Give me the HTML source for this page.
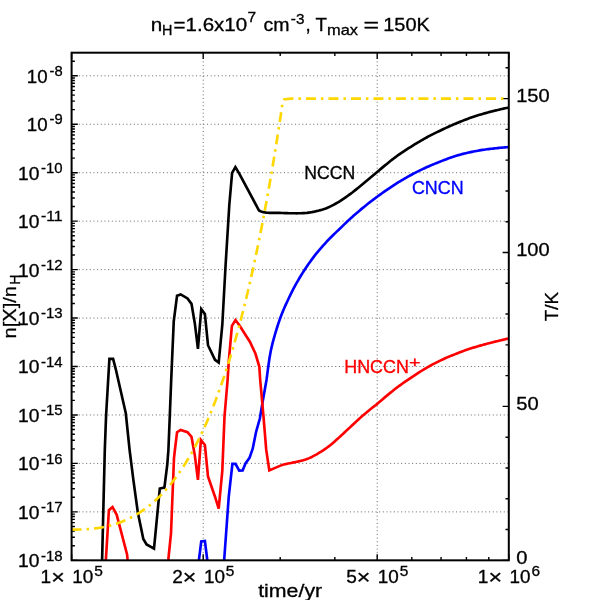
<!DOCTYPE html>
<html><head><meta charset="utf-8"><title>NCCN chemistry</title>
<style>
html,body{margin:0;padding:0;background:#fff;}
body{width:600px;height:600px;overflow:hidden;}
svg{display:block;will-change:transform;}
text{font-family:"Liberation Sans",sans-serif;fill:#000;stroke:#000;stroke-width:0.3px;}
.t{font-size:17.6px;}
.s{font-size:14.1px;}
</style></head><body>
<svg width="600" height="600" viewBox="0 0 600 600">
<rect x="0" y="0" width="600" height="600" fill="#ffffff"/>
<defs><clipPath id="cp"><rect x="71.60" y="52.70" width="437.20" height="507.63"/></clipPath></defs>

<g stroke="#686868" stroke-width="1" stroke-dasharray="1 2.663" fill="none">
<line x1="78.83" y1="75.80" x2="508.80" y2="75.80"/>
<line x1="78.83" y1="124.25" x2="508.80" y2="124.25"/>
<line x1="78.83" y1="172.71" x2="508.80" y2="172.71"/>
<line x1="78.83" y1="221.16" x2="508.80" y2="221.16"/>
<line x1="78.83" y1="269.61" x2="508.80" y2="269.61"/>
<line x1="78.83" y1="318.06" x2="508.80" y2="318.06"/>
<line x1="78.83" y1="366.52" x2="508.80" y2="366.52"/>
<line x1="78.83" y1="414.97" x2="508.80" y2="414.97"/>
<line x1="78.83" y1="463.42" x2="508.80" y2="463.42"/>
<line x1="78.83" y1="511.88" x2="508.80" y2="511.88"/>
<line x1="203.21" y1="61.40" x2="203.21" y2="560.33" />
<line x1="377.19" y1="61.40" x2="377.19" y2="560.33" />
</g>
<path d="M71.60,75.80 h6.20 M71.60,61.21 h3.30 M71.60,124.25 h6.20 M71.60,109.67 h3.30 M71.60,101.14 h3.30 M71.60,95.08 h3.30 M71.60,90.39 h3.30 M71.60,86.55 h3.30 M71.60,83.31 h3.30 M71.60,80.50 h3.30 M71.60,78.02 h3.30 M71.60,172.71 h6.20 M71.60,158.12 h3.30 M71.60,149.59 h3.30 M71.60,143.53 h3.30 M71.60,138.84 h3.30 M71.60,135.00 h3.30 M71.60,131.76 h3.30 M71.60,128.95 h3.30 M71.60,126.47 h3.30 M71.60,221.16 h6.20 M71.60,206.57 h3.30 M71.60,198.04 h3.30 M71.60,191.99 h3.30 M71.60,187.29 h3.30 M71.60,183.46 h3.30 M71.60,180.21 h3.30 M71.60,177.40 h3.30 M71.60,174.92 h3.30 M71.60,269.61 h6.20 M71.60,255.03 h3.30 M71.60,246.49 h3.30 M71.60,240.44 h3.30 M71.60,235.74 h3.30 M71.60,231.91 h3.30 M71.60,228.66 h3.30 M71.60,225.85 h3.30 M71.60,223.38 h3.30 M71.60,318.06 h6.20 M71.60,303.48 h3.30 M71.60,294.95 h3.30 M71.60,288.89 h3.30 M71.60,284.20 h3.30 M71.60,280.36 h3.30 M71.60,277.12 h3.30 M71.60,274.31 h3.30 M71.60,271.83 h3.30 M71.60,366.52 h6.20 M71.60,351.93 h3.30 M71.60,343.40 h3.30 M71.60,337.35 h3.30 M71.60,332.65 h3.30 M71.60,328.81 h3.30 M71.60,325.57 h3.30 M71.60,322.76 h3.30 M71.60,320.28 h3.30 M71.60,414.97 h6.20 M71.60,400.39 h3.30 M71.60,391.85 h3.30 M71.60,385.80 h3.30 M71.60,381.10 h3.30 M71.60,377.27 h3.30 M71.60,374.02 h3.30 M71.60,371.21 h3.30 M71.60,368.74 h3.30 M71.60,463.42 h6.20 M71.60,448.84 h3.30 M71.60,440.31 h3.30 M71.60,434.25 h3.30 M71.60,429.56 h3.30 M71.60,425.72 h3.30 M71.60,422.48 h3.30 M71.60,419.67 h3.30 M71.60,417.19 h3.30 M71.60,511.88 h6.20 M71.60,497.29 h3.30 M71.60,488.76 h3.30 M71.60,482.71 h3.30 M71.60,478.01 h3.30 M71.60,474.17 h3.30 M71.60,470.93 h3.30 M71.60,468.12 h3.30 M71.60,465.64 h3.30 M71.60,560.33 h6.20 M71.60,545.74 h3.30 M71.60,537.21 h3.30 M71.60,531.16 h3.30 M71.60,526.46 h3.30 M71.60,522.63 h3.30 M71.60,519.38 h3.30 M71.60,516.57 h3.30 M71.60,514.09 h3.30 M508.80,560.33 h-6.20 M508.80,529.55 h-3.30 M508.80,498.77 h-3.30 M508.80,467.98 h-3.30 M508.80,437.20 h-3.30 M508.80,406.42 h-6.20 M508.80,375.64 h-3.30 M508.80,344.86 h-3.30 M508.80,314.07 h-3.30 M508.80,283.29 h-3.30 M508.80,252.51 h-6.20 M508.80,221.73 h-3.30 M508.80,190.95 h-3.30 M508.80,160.16 h-3.30 M508.80,129.38 h-3.30 M508.80,98.60 h-6.20 M508.80,67.82 h-3.30 M71.60,560.33 v-6.20 M71.60,52.70 v6.20 M203.21,560.33 v-6.20 M203.21,52.70 v6.20 M280.20,560.33 v-3.30 M280.20,52.70 v3.30 M334.82,560.33 v-3.30 M334.82,52.70 v3.30 M377.19,560.33 v-6.20 M377.19,52.70 v6.20 M411.81,560.33 v-3.30 M411.81,52.70 v3.30 M441.08,560.33 v-3.30 M441.08,52.70 v3.30 M466.43,560.33 v-3.30 M466.43,52.70 v3.30 M488.79,560.33 v-3.30 M488.79,52.70 v3.30 M508.80,560.33 v-6.20 M508.80,52.70 v6.20" stroke="#000" stroke-width="1.4" fill="none"/>
<g clip-path="url(#cp)" fill="none" stroke-width="2.65" stroke-linejoin="miter" stroke-linecap="butt">
<path d="M102.10,560.00 L104.80,450.00 L106.10,415.20 L109.40,358.90 L113.10,358.90 L115.80,369.30 L125.80,413.30 L129.60,450.00 L133.30,479.30 L137.80,512.30 L143.30,538.90 L146.60,544.40 L154.00,548.60 L159.80,488.50 L164.40,487.60 L167.30,464.30 L168.40,450.00 L169.90,413.30 L171.20,380.00 L173.75,321.30 L177.05,295.70 L180.70,294.40 L187.50,298.40 L191.50,303.90 L194.80,323.20 L197.95,348.80 L201.25,309.00 L204.90,313.90 L208.00,345.20 L215.00,359.80 L218.70,362.60 L222.30,325.00 L225.60,265.00 L229.30,205.00 L232.10,172.90 L235.40,167.05 L239.40,173.80 L259.00,210.50 L260.50,211.18 L262.00,211.72 L263.50,212.14 L265.00,212.45 L266.50,212.67 L268.00,212.80 L269.50,212.86 L271.00,212.87 L272.50,212.84 L274.00,212.77 L275.50,212.83 L277.00,212.86 L278.50,212.89 L280.00,212.93 L281.50,212.97 L283.00,213.01 L284.50,213.07 L286.00,213.11 L287.50,213.16 L289.00,213.20 L290.50,213.24 L292.00,213.27 L293.50,213.29 L295.00,213.30 L296.50,213.31 L298.00,213.29 L299.50,213.26 L301.00,213.21 L302.50,213.15 L304.00,213.06 L305.50,212.95 L307.00,212.81 L308.50,212.63 L310.00,212.43 L311.50,212.19 L313.00,211.91 L314.50,211.60 L316.00,211.24 L317.50,210.92 L319.00,210.56 L320.50,210.15 L322.00,209.71 L323.50,209.22 L325.00,208.70 L326.50,208.14 L328.00,207.55 L329.50,206.86 L331.00,206.13 L332.50,205.38 L334.00,204.59 L335.50,203.78 L337.00,202.93 L338.50,202.06 L340.00,201.17 L341.50,200.18 L343.00,199.18 L344.50,198.15 L346.00,197.10 L347.50,196.03 L349.00,194.94 L350.50,193.83 L352.00,192.71 L353.50,191.53 L355.00,190.34 L356.50,189.14 L358.00,187.92 L359.50,186.69 L361.00,185.46 L362.50,184.22 L364.00,182.96 L365.50,181.72 L367.00,180.47 L368.50,179.22 L370.00,177.97 L371.50,176.71 L373.00,175.46 L374.50,174.20 L376.00,172.95 L377.50,171.67 L379.00,170.40 L380.50,169.13 L382.00,167.87 L383.50,166.62 L385.00,165.38 L386.50,164.15 L388.00,162.93 L389.50,161.73 L391.00,160.55 L392.50,159.40 L394.00,158.26 L395.50,157.13 L397.00,156.02 L398.50,154.92 L400.00,153.84 L401.50,152.83 L403.00,151.83 L404.50,150.85 L406.00,149.88 L407.50,148.92 L409.00,147.98 L410.50,147.04 L412.00,146.09 L413.50,145.15 L415.00,144.23 L416.50,143.32 L418.00,142.42 L419.50,141.54 L421.00,140.66 L422.50,139.80 L424.00,138.95 L425.50,138.11 L427.00,137.28 L428.50,136.46 L430.00,135.65 L431.50,134.89 L433.00,134.13 L434.50,133.39 L436.00,132.66 L437.50,131.93 L439.00,131.22 L440.50,130.51 L442.00,129.78 L443.50,129.06 L445.00,128.36 L446.50,127.66 L448.00,126.97 L449.50,126.29 L451.00,125.62 L452.50,124.96 L454.00,124.31 L455.50,123.67 L457.00,123.04 L458.50,122.41 L460.00,121.80 L461.50,121.20 L463.00,120.61 L464.50,120.03 L466.00,119.47 L467.50,118.91 L469.00,118.36 L470.50,117.83 L472.00,117.31 L473.50,116.80 L475.00,116.30 L476.50,115.81 L478.00,115.33 L479.50,114.86 L481.00,114.41 L482.50,113.97 L484.00,113.54 L485.50,113.13 L487.00,112.70 L488.50,112.28 L490.00,111.87 L491.50,111.48 L493.00,111.10 L494.50,110.74 L496.00,110.39 L497.50,110.06 L499.00,109.69 L500.50,109.32 L502.00,108.96 L503.50,108.62 L505.00,108.29 L506.50,107.98 L508.00,107.69 L509.00,107.51" stroke="#000000"/>
<path d="M198.80,561.00 L201.25,541.50 L204.90,541.00 L207.40,561.00" stroke="#0000ff"/>
<path d="M224.10,561.00 L228.75,496.70 L232.40,463.90 L235.50,463.90 L239.20,470.70 L242.60,470.40 L245.50,463.40 L249.50,457.90 L252.70,448.70 L256.10,431.80 L259.85,418.50 L262.90,400.20 L266.50,380.00 L268.00,368.55 L269.50,358.08 L271.00,349.85 L272.50,343.33 L274.00,337.78 L275.50,332.63 L277.00,327.74 L278.50,323.13 L280.00,318.78 L281.50,314.77 L283.00,310.99 L284.50,307.45 L286.00,304.11 L287.50,300.97 L289.00,297.76 L290.50,294.60 L292.00,291.57 L293.50,288.68 L295.00,285.89 L296.50,283.19 L298.00,280.57 L299.50,278.01 L301.00,275.53 L302.50,273.10 L304.00,270.73 L305.50,268.46 L307.00,266.23 L308.50,264.06 L310.00,261.94 L311.50,259.87 L313.00,257.84 L314.50,255.85 L316.00,253.91 L317.50,252.10 L319.00,250.32 L320.50,248.58 L322.00,246.87 L323.50,245.18 L325.00,243.52 L326.50,241.88 L328.00,240.26 L329.50,238.74 L331.00,237.24 L332.50,235.76 L334.00,234.29 L335.50,232.83 L337.00,231.39 L338.50,229.96 L340.00,228.55 L341.50,227.07 L343.00,225.60 L344.50,224.15 L346.00,222.71 L347.50,221.29 L349.00,219.88 L350.50,218.50 L352.00,217.15 L353.50,215.82 L355.00,214.50 L356.50,213.20 L358.00,211.91 L359.50,210.64 L361.00,209.38 L362.50,208.13 L364.00,206.90 L365.50,205.69 L367.00,204.49 L368.50,203.30 L370.00,202.13 L371.50,200.98 L373.00,199.83 L374.50,198.71 L376.00,197.59 L377.50,196.50 L379.00,195.41 L380.50,194.33 L382.00,193.25 L383.50,192.18 L385.00,191.12 L386.50,190.08 L388.00,189.05 L389.50,188.03 L391.00,187.03 L392.50,186.05 L394.00,185.07 L395.50,184.11 L397.00,183.17 L398.50,182.24 L400.00,181.32 L401.50,180.41 L403.00,179.52 L404.50,178.65 L406.00,177.78 L407.50,176.93 L409.00,176.10 L410.50,175.27 L412.00,174.46 L413.50,173.67 L415.00,172.88 L416.50,172.11 L418.00,171.36 L419.50,170.61 L421.00,169.88 L422.50,169.16 L424.00,168.46 L425.50,167.76 L427.00,167.08 L428.50,166.42 L430.00,165.76 L431.50,165.12 L433.00,164.49 L434.50,163.88 L436.00,163.27 L437.50,162.68 L439.00,162.10 L440.50,161.52 L442.00,160.90 L443.50,160.30 L445.00,159.71 L446.50,159.14 L448.00,158.57 L449.50,158.02 L451.00,157.48 L452.50,156.95 L454.00,156.43 L455.50,155.95 L457.00,155.52 L458.50,155.10 L460.00,154.69 L461.50,154.29 L463.00,153.90 L464.50,153.53 L466.00,153.17 L467.50,152.81 L469.00,152.48 L470.50,152.15 L472.00,151.83 L473.50,151.53 L475.00,151.23 L476.50,150.95 L478.00,150.68 L479.50,150.42 L481.00,150.17 L482.50,149.93 L484.00,149.70 L485.50,149.49 L487.00,149.28 L488.50,149.09 L490.00,148.90 L491.50,148.73 L493.00,148.57 L494.50,148.42 L496.00,148.25 L497.50,148.07 L499.00,147.91 L500.50,147.76 L502.00,147.62 L503.50,147.49 L505.00,147.37 L506.50,147.26 L508.00,147.16 L509.00,147.09" stroke="#0000ff"/>
<path d="M105.75,562.00 L108.90,510.20 L112.50,507.00 L116.70,514.80 L127.00,554.20 L127.90,562.00" stroke="#ff0000"/>
<path d="M168.20,561.00 L171.00,533.30 L174.00,458.00 L174.90,450.00 L177.05,432.25 L180.70,429.90 L187.50,432.25 L191.50,436.80 L194.80,455.20 L197.95,479.90 L200.90,440.00 L204.90,445.00 L208.00,476.40 L215.00,496.70 L218.70,508.60 L222.30,471.00 L224.50,416.70 L227.60,380.00 L228.75,361.70 L231.90,325.90 L235.50,320.00 L239.20,325.00 L250.00,342.00 L255.40,353.50 L259.30,366.50 L260.20,380.00 L263.50,416.70 L266.20,449.70 L269.30,470.40 L282.20,464.90 L283.70,464.52 L285.20,464.17 L286.70,463.85 L288.20,463.54 L289.70,463.24 L291.20,462.95 L292.70,462.65 L294.20,462.35 L295.70,462.04 L297.20,461.70 L298.70,461.34 L300.20,460.95 L301.70,460.62 L303.20,460.23 L304.70,459.79 L306.20,459.30 L307.70,458.74 L309.20,458.12 L310.70,457.44 L312.20,456.72 L313.70,455.94 L315.20,455.13 L316.70,454.28 L318.20,453.39 L319.70,452.48 L321.20,451.54 L322.70,450.56 L324.20,449.57 L325.70,448.54 L327.20,447.48 L328.70,446.40 L330.20,445.27 L331.70,444.02 L333.20,442.74 L334.70,441.43 L336.20,440.10 L337.70,438.76 L339.20,437.39 L340.70,436.01 L342.20,434.61 L343.70,433.20 L345.20,431.78 L346.70,430.38 L348.20,429.00 L349.70,427.61 L351.20,426.22 L352.70,424.82 L354.20,423.43 L355.70,422.03 L357.20,420.64 L358.70,419.26 L360.20,417.88 L361.70,416.51 L363.20,415.17 L364.70,413.91 L366.20,412.66 L367.70,411.42 L369.20,410.21 L370.70,409.01 L372.20,407.82 L373.70,406.66 L375.20,405.51 L376.70,404.37 L378.20,403.08 L379.70,401.76 L381.20,400.45 L382.70,399.16 L384.20,397.88 L385.70,396.62 L387.20,395.37 L388.70,394.12 L390.20,392.89 L391.70,391.66 L393.20,390.44 L394.70,389.23 L396.20,388.11 L397.70,387.01 L399.20,385.92 L400.70,384.83 L402.20,383.76 L403.70,382.70 L405.20,381.64 L406.70,380.60 L408.20,379.56 L409.70,378.54 L411.20,377.53 L412.70,376.53 L414.20,375.53 L415.70,374.56 L417.20,373.59 L418.70,372.63 L420.20,371.69 L421.70,370.75 L423.20,369.83 L424.70,368.93 L426.20,368.03 L427.70,367.15 L429.20,366.31 L430.70,365.49 L432.20,364.68 L433.70,363.88 L435.20,363.10 L436.70,362.34 L438.20,361.59 L439.70,360.85 L441.20,360.13 L442.70,359.43 L444.20,358.74 L445.70,358.07 L447.20,357.41 L448.70,356.77 L450.20,356.15 L451.70,355.54 L453.20,354.96 L454.70,354.38 L456.20,353.77 L457.70,353.17 L459.20,352.57 L460.70,351.99 L462.20,351.43 L463.70,350.88 L465.20,350.34 L466.70,349.82 L468.20,349.31 L469.70,348.81 L471.20,348.32 L472.70,347.84 L474.20,347.37 L475.70,346.92 L477.20,346.47 L478.70,346.04 L480.20,345.61 L481.70,345.19 L483.20,344.78 L484.70,344.38 L486.20,343.97 L487.70,343.57 L489.20,343.18 L490.70,342.79 L492.20,342.41 L493.70,342.03 L495.20,341.66 L496.70,341.29 L498.20,340.93 L499.70,340.57 L501.20,340.21 L502.70,339.86 L504.20,339.51 L505.70,339.16 L507.20,338.81 L508.70,338.47 L509.00,338.40" stroke="#ff0000"/>
<path d="M71.60,529.55 L72.60,529.55 L73.60,529.55 L74.60,529.55 L75.60,529.55 L76.60,529.55 L77.60,529.55 L78.60,529.54 L79.60,529.53 L80.60,529.51 L81.60,529.49 L82.60,529.46 L83.60,529.42 L84.60,529.37 L85.60,529.32 L86.60,529.26 L87.60,529.19 L88.60,529.12 L89.60,529.04 L90.60,528.95 L91.60,528.85 L92.60,528.75 L93.60,528.64 L94.60,528.52 L95.60,528.39 L96.60,528.25 L97.60,528.11 L98.60,527.95 L99.60,527.79 L100.60,527.62 L101.60,527.44 L102.60,527.25 L103.60,527.05 L104.60,526.85 L105.60,526.63 L106.60,526.40 L107.60,526.17 L108.60,525.92 L109.60,525.66 L110.60,525.40 L111.60,525.12 L112.60,524.84 L113.60,524.54 L114.60,524.23 L115.60,523.91 L116.60,523.58 L117.60,523.24 L118.60,522.89 L119.60,522.52 L120.60,522.15 L121.60,521.76 L122.60,521.36 L123.60,520.95 L124.60,520.53 L125.60,520.09 L126.60,519.64 L127.60,519.18 L128.60,518.70 L129.60,518.21 L130.60,517.71 L131.60,517.20 L132.60,516.67 L133.60,516.12 L134.60,515.57 L135.60,515.00 L136.60,514.41 L137.60,513.81 L138.60,513.19 L139.60,512.56 L140.60,511.91 L141.60,511.25 L142.60,510.57 L143.60,509.88 L144.60,509.17 L145.60,508.44 L146.60,507.70 L147.60,506.94 L148.60,506.16 L149.60,505.37 L150.60,504.55 L151.60,503.72 L152.60,502.88 L153.60,502.01 L154.60,501.12 L155.60,500.22 L156.60,499.30 L157.60,498.36 L158.60,497.39 L159.60,496.41 L160.60,495.41 L161.60,494.39 L162.60,493.35 L163.60,492.28 L164.60,491.20 L165.60,490.09 L166.60,488.97 L167.60,487.82 L168.60,486.64 L169.60,485.45 L170.60,484.23 L171.60,482.99 L172.60,481.73 L173.60,480.44 L174.60,479.13 L175.60,477.79 L176.60,476.43 L177.60,475.05 L178.60,473.64 L179.60,472.20 L180.60,470.74 L181.60,469.25 L182.60,467.74 L183.60,466.19 L184.60,464.62 L185.60,463.03 L186.60,461.40 L187.60,459.75 L188.60,458.07 L189.60,456.35 L190.60,454.61 L191.60,452.84 L192.60,451.04 L193.60,449.21 L194.60,447.35 L195.60,445.46 L196.60,443.53 L197.60,441.57 L198.60,439.58 L199.60,437.56 L200.60,435.51 L201.60,433.42 L202.60,431.29 L203.60,429.13 L204.60,426.94 L205.60,424.71 L206.60,422.45 L207.60,420.14 L208.60,417.81 L209.60,415.43 L210.60,413.02 L211.60,410.57 L212.60,408.08 L213.60,405.55 L214.60,402.98 L215.60,400.37 L216.60,397.72 L217.60,395.03 L218.60,392.30 L219.60,389.52 L220.60,386.70 L221.60,383.84 L222.60,380.94 L223.60,377.99 L224.60,375.00 L225.60,371.96 L226.60,368.88 L227.60,365.75 L228.60,362.57 L229.60,359.34 L230.60,356.07 L231.60,352.75 L232.60,349.38 L233.60,345.96 L234.60,342.49 L235.60,338.96 L236.60,335.39 L237.60,331.76 L238.60,328.08 L239.60,324.35 L240.60,320.56 L241.60,316.72 L242.60,312.82 L243.60,308.87 L244.60,304.86 L245.60,300.79 L246.60,296.66 L247.60,292.48 L248.60,288.23 L249.60,283.93 L250.60,279.56 L251.60,275.13 L252.60,270.64 L253.60,266.08 L254.60,261.46 L255.60,256.78 L256.60,252.03 L257.60,247.21 L258.60,242.33 L259.60,237.38 L260.60,232.36 L261.60,227.27 L262.60,222.11 L263.60,216.88 L264.60,211.58 L265.60,206.20 L266.60,200.75 L267.60,195.23 L268.60,189.63 L269.60,183.95 L270.60,178.20 L271.60,172.36 L272.60,166.45 L273.60,160.46 L274.60,154.39 L275.60,148.23 L276.60,142.00 L277.60,135.68 L278.60,129.27 L279.60,122.78 L280.60,116.20 L281.60,109.53 L282.60,102.77 L284.10,99.50 L290.50,98.60 L509.00,98.60" stroke="#ffd700" stroke-dasharray="10 5 2.5 5"/>
</g>
<rect x="71.60" y="52.70" width="437.20" height="507.63" fill="none" stroke="#000" stroke-width="2"/>
<text class="t" x="26.80" y="82.70" textLength="20.8" lengthAdjust="spacingAndGlyphs">10</text>
<text class="s" x="49.50" y="76.00" textLength="13.1" lengthAdjust="spacingAndGlyphs">-8</text>
<text class="t" x="26.80" y="131.15" textLength="20.8" lengthAdjust="spacingAndGlyphs">10</text>
<text class="s" x="49.50" y="124.45" textLength="13.1" lengthAdjust="spacingAndGlyphs">-9</text>
<text class="t" x="18.10" y="179.61" textLength="21.4" lengthAdjust="spacingAndGlyphs">10</text>
<text class="s" x="41.00" y="172.91" textLength="21.6" lengthAdjust="spacingAndGlyphs">-10</text>
<text class="t" x="18.10" y="228.06" textLength="21.4" lengthAdjust="spacingAndGlyphs">10</text>
<text class="s" x="41.00" y="221.36" textLength="21.6" lengthAdjust="spacingAndGlyphs">-11</text>
<text class="t" x="18.10" y="276.51" textLength="21.4" lengthAdjust="spacingAndGlyphs">10</text>
<text class="s" x="41.00" y="269.81" textLength="21.6" lengthAdjust="spacingAndGlyphs">-12</text>
<text class="t" x="18.10" y="324.96" textLength="21.4" lengthAdjust="spacingAndGlyphs">10</text>
<text class="s" x="41.00" y="318.26" textLength="21.6" lengthAdjust="spacingAndGlyphs">-13</text>
<text class="t" x="18.10" y="373.42" textLength="21.4" lengthAdjust="spacingAndGlyphs">10</text>
<text class="s" x="41.00" y="366.72" textLength="21.6" lengthAdjust="spacingAndGlyphs">-14</text>
<text class="t" x="18.10" y="421.87" textLength="21.4" lengthAdjust="spacingAndGlyphs">10</text>
<text class="s" x="41.00" y="415.17" textLength="21.6" lengthAdjust="spacingAndGlyphs">-15</text>
<text class="t" x="18.10" y="470.32" textLength="21.4" lengthAdjust="spacingAndGlyphs">10</text>
<text class="s" x="41.00" y="463.62" textLength="21.6" lengthAdjust="spacingAndGlyphs">-16</text>
<text class="t" x="18.10" y="518.78" textLength="21.4" lengthAdjust="spacingAndGlyphs">10</text>
<text class="s" x="41.00" y="512.08" textLength="21.6" lengthAdjust="spacingAndGlyphs">-17</text>
<text class="t" x="18.10" y="567.23" textLength="21.4" lengthAdjust="spacingAndGlyphs">10</text>
<text class="s" x="41.00" y="560.53" textLength="21.6" lengthAdjust="spacingAndGlyphs">-18</text>
<text class="t" x="516.20" y="564.03" textLength="11.2" lengthAdjust="spacingAndGlyphs">0</text>
<text class="t" x="516.20" y="410.12" textLength="22.4" lengthAdjust="spacingAndGlyphs">50</text>
<text class="t" x="516.20" y="256.21" textLength="33.5" lengthAdjust="spacingAndGlyphs">100</text>
<text class="t" x="516.20" y="102.30" textLength="33.5" lengthAdjust="spacingAndGlyphs">150</text>
<text class="t" x="40.60" y="582.7" textLength="10.6" lengthAdjust="spacingAndGlyphs">1</text>
<text x="51.20" y="584.0" textLength="13.6" lengthAdjust="spacingAndGlyphs" style="font-size:20px">×</text>
<text class="t" x="72.30" y="582.7" textLength="21.0" lengthAdjust="spacingAndGlyphs">10</text>
<text class="s" x="94.20" y="576.2" textLength="8.6" lengthAdjust="spacingAndGlyphs">5</text>
<text class="t" x="172.21" y="582.7" textLength="10.6" lengthAdjust="spacingAndGlyphs">2</text>
<text x="182.81" y="584.0" textLength="13.6" lengthAdjust="spacingAndGlyphs" style="font-size:20px">×</text>
<text class="t" x="203.91" y="582.7" textLength="21.0" lengthAdjust="spacingAndGlyphs">10</text>
<text class="s" x="225.81" y="576.2" textLength="8.6" lengthAdjust="spacingAndGlyphs">5</text>
<text class="t" x="346.19" y="582.7" textLength="10.6" lengthAdjust="spacingAndGlyphs">5</text>
<text x="356.79" y="584.0" textLength="13.6" lengthAdjust="spacingAndGlyphs" style="font-size:20px">×</text>
<text class="t" x="377.89" y="582.7" textLength="21.0" lengthAdjust="spacingAndGlyphs">10</text>
<text class="s" x="399.79" y="576.2" textLength="8.6" lengthAdjust="spacingAndGlyphs">5</text>
<text class="t" x="477.80" y="582.7" textLength="10.6" lengthAdjust="spacingAndGlyphs">1</text>
<text x="488.40" y="584.0" textLength="13.6" lengthAdjust="spacingAndGlyphs" style="font-size:20px">×</text>
<text class="t" x="509.50" y="582.7" textLength="21.0" lengthAdjust="spacingAndGlyphs">10</text>
<text class="s" x="531.40" y="576.2" textLength="8.6" lengthAdjust="spacingAndGlyphs">6</text>
<text class="t" x="258.2" y="596.7" textLength="64" lengthAdjust="spacingAndGlyphs">time/yr</text>
<g transform="translate(16,338.5) rotate(-90)"><text class="t" x="0" y="0.3" textLength="52.5" lengthAdjust="spacingAndGlyphs">n[X]/n</text><text class="s" x="54" y="3.6" textLength="9.8" lengthAdjust="spacingAndGlyphs">H</text></g>
<g transform="translate(557.9,321.2) rotate(-90)"><text class="t" x="0" y="0" textLength="29.3" lengthAdjust="spacingAndGlyphs">T/K</text></g>
<text class="t" x="150.8" y="31.25" textLength="11.5" lengthAdjust="spacingAndGlyphs">n</text>
<text class="s" x="162.0" y="34.55" textLength="10.4" lengthAdjust="spacingAndGlyphs">H</text>
<text class="t" x="173.6" y="31.25" textLength="73.5" lengthAdjust="spacingAndGlyphs">=1.6x10</text>
<text class="s" x="247.6" y="22.45" textLength="8.6" lengthAdjust="spacingAndGlyphs">7</text>
<text class="t" x="263.6" y="31.25" textLength="26" lengthAdjust="spacingAndGlyphs">cm</text>
<text class="s" x="290.8" y="23.75" textLength="13.6" lengthAdjust="spacingAndGlyphs">-3</text>
<text class="t" x="305.4" y="31.25" textLength="21.5" lengthAdjust="spacingAndGlyphs">, T</text>
<text class="s" x="327.0" y="34.55" textLength="31" lengthAdjust="spacingAndGlyphs">max</text>
<text class="t" x="363.6" y="31.25" textLength="15.6" lengthAdjust="spacingAndGlyphs">=</text>
<text class="t" x="383.2" y="31.25" textLength="46.6" lengthAdjust="spacingAndGlyphs">150K</text>
<text class="t" x="304.2" y="179.4" textLength="51" lengthAdjust="spacingAndGlyphs">NCCN</text>
<text class="t" x="411.9" y="194.0" textLength="51.8" lengthAdjust="spacingAndGlyphs" style="fill:#0000ff;stroke:#0000ff">CNCN</text>
<text class="t" x="344.2" y="373.0" textLength="64.8" lengthAdjust="spacingAndGlyphs" style="fill:#ff0000;stroke:#ff0000">HNCCN</text>
<text x="408.9" y="366.9" textLength="11.6" lengthAdjust="spacingAndGlyphs" style="fill:#ff0000;stroke:#ff0000;font-size:15.5px">+</text>
</svg></body></html>
